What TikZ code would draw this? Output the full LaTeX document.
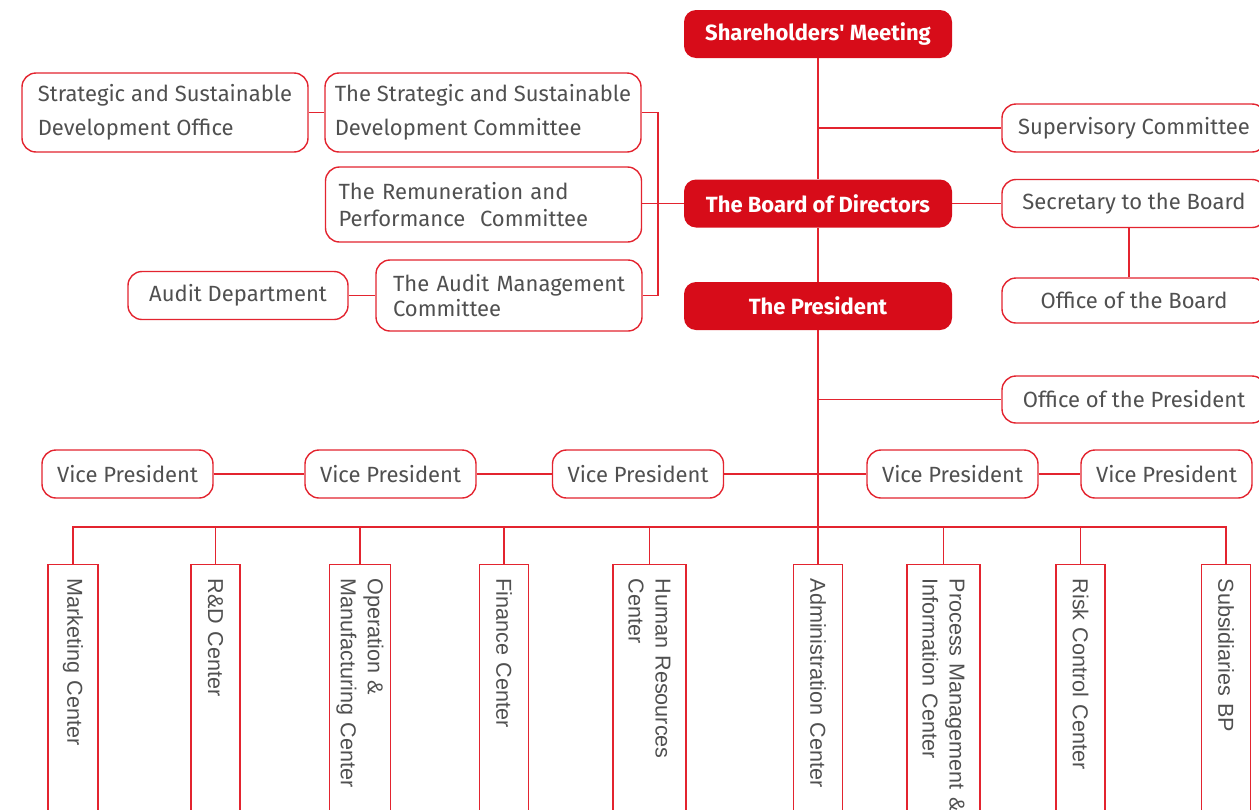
\documentclass[tikz,border=0pt]{standalone}
\usepackage{fontspec}
\setmainfont{Fira Sans}
\setsansfont{Liberation Sans}
\definecolor{orgred}{HTML}{D70C19}
\definecolor{linered}{HTML}{E3242F}
\definecolor{txtgrey}{HTML}{505050}

\begin{document}
\begin{tikzpicture}[x=0.5pt,y=-0.5pt,
  head/.style={fill=orgred, text=white, rounded corners=6pt, font=\bfseries\fontsize{11}{13}\selectfont,
    minimum width=134pt, minimum height=24pt},
  unit/.style={draw=linered, line width=0.7pt, fill=white, text=txtgrey, rounded corners=7pt,
    font=\fontsize{11}{13}\selectfont, minimum height=24pt},
  dept/.style={draw=linered, line width=0.7pt, text=txtgrey, rotate=-90, anchor=west, align=left,
    font=\sffamily\fontsize{10.8}{13.5}\selectfont, text width=120pt, inner xsep=7pt, minimum height=24.5pt},
  link/.style={draw=linered, line width=0.75pt}]
\useasboundingbox (0,0) rectangle (1259,809);

% top of the chart
\node[head] (meeting) at (818,34) {Shareholders\textquotesingle\ Meeting};
\node[head] (board) at (818,203.5) {The Board of Directors};
\node[head] (pres) at (818,306) {The President};

% right side
\node[unit, minimum width=132pt] (super) at (1134,128) {Supervisory Committee};
\node[unit, minimum width=132pt] (secr) at (1134,203.5) {Secretary to the Board};
\node[unit, minimum width=132pt, minimum height=22.5pt] (offboard) at (1134,300.5) {Office of the Board};
\node[unit, minimum width=132pt, minimum height=23.5pt] (offpres) at (1134,399.5) {Office of the President};

% committees
\node[unit, minimum width=143pt, minimum height=39.5pt, align=left, font=\fontsize{11}{17}\selectfont] (ssdo) at (165,112.5)
  {Strategic and Sustainable\\Development Office};
\node[unit, minimum width=158pt, minimum height=39.5pt, align=left, font=\fontsize{11}{17}\selectfont] (ssdc) at (483,112.5)
  {The Strategic and Sustainable\\Development Committee};
\node[unit, text width=145pt, inner xsep=6.5pt, minimum height=37.5pt, align=left, font=\fontsize{11}{13.5}\selectfont] (rpc) at (483.5,204.5)
  {\mbox{The Remuneration and}\\\mbox{Performance~~Committee}};
\node[unit, text width=116pt, inner xsep=8.5pt, minimum height=35.5pt, align=left, font=\fontsize{11}{12.5}\selectfont] (amc) at (509,295.5)
  {\mbox{The Audit Management}\\Committee};
\node[unit, minimum width=110pt] (audit) at (238,295.5) {Audit Department};
\coordinate (brk) at (658,203.5);

% vice presidents
\node[unit, minimum width=85.5pt] (vp1) at (127.5,474) {Vice President};
\node[unit, minimum width=85.5pt] (vp2) at (390.5,474) {Vice President};
\node[unit, minimum width=85.5pt] (vp3) at (638,474) {Vice President};
\node[unit, minimum width=85.5pt] (vp4) at (952.5,474) {Vice President};
\node[unit, minimum width=85.5pt] (vp5) at (1166.5,474) {Vice President};

% centers
\coordinate (bus) at (818,527);
\node[dept, minimum height=25pt] (mkt) at (73,564) {Marketing Center};
\node[dept] (rnd) at (215.5,564) {R\&D Center};
\node[dept, minimum height=30pt] (ops) at (360,564) {Operation \&\\Manufacturing Center};
\node[dept] (fin) at (504,564) {Finance Center};
\node[dept, minimum height=36.5pt] (hr) at (649.5,564) {Human Resources\\Center};
\node[dept] (admin) at (818,564) {Administration Center};
\node[dept, minimum height=36.5pt] (proc) at (943.5,564) {Process Management \&\\Information Center};
\node[dept] (risk) at (1080.5,564) {Risk Control Center};
\node[dept] (subs) at (1226,564) {Subsidiaries BP};

% lines
\draw[link] (meeting) -- (board);
\draw[link] (board) -- (pres);
\draw[link] (pres) -- (admin);
\draw[link] (meeting.south |- super) -- (super);
\draw[link] (board) -- (secr);
\draw[link] ([xshift=-2.5pt]secr.south) -- ([xshift=-2.5pt]offboard.north);
\draw[link] (pres.south |- offpres) -- (offpres);
\draw[link] (board) -- (brk);
\draw[link] (brk) -- (brk -| rpc.east);
\draw[link] (ssdc.east) -| (brk) |- (amc.east);
\draw[link] (ssdo) -- (ssdc);
\draw[link] (audit) -- (amc);
\draw[link] (vp1) -- (vp2);
\draw[link] (vp2) -- (vp3);
\draw[link] (vp3) -- (vp4);
\draw[link] (vp4) -- (vp5);
\draw[link] (bus) -| (mkt.west);
\draw[link] (bus) -| (rnd.west);
\draw[link] (bus) -| (ops.west);
\draw[link] (bus) -| (fin.west);
\draw[link] (bus) -| (hr.west);
\draw[link] (bus) -| (proc.west);
\draw[link] (bus) -| (risk.west);
\draw[link] (bus) -| (subs.west);
\end{tikzpicture}
\end{document}
